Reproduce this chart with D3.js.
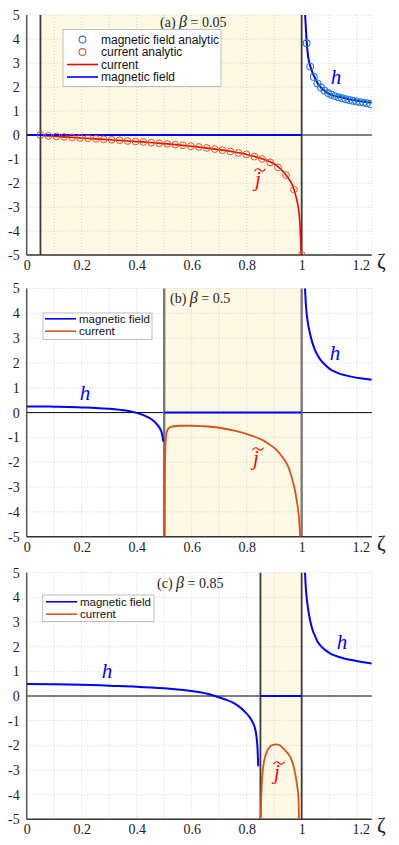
<!DOCTYPE html>
<html>
<head>
<meta charset="utf-8">
<script src="https://cdn.jsdelivr.net/npm/d3@7"></script>
<style>
  body { margin: 0; background: #fff; }
  svg { display: block; }
</style>
</head>
<body>
<svg id="chart" width="399" height="845"></svg>
<script>
// ---------------- DATA ----------------
const xTicks = [0, 0.2, 0.4, 0.6, 0.8, 1, 1.2];
const yTicks = [-5, -4, -3, -2, -1, 0, 1, 2, 3, 4, 5];
const betas = [0.05, 0.5, 0.85];
const panelLetters = ["(a)", "(b)", "(c)"];

// Panel (a) beta = 0.05
const aCurZeta = [0.05,0.06,0.08,0.10,0.15,0.20,0.25,0.30,0.35,0.40,0.45,0.50,0.55,0.60,0.65,0.70,0.75,0.80,0.85,0.88,0.90,0.92,0.94,0.955,0.965,0.972,0.98,0.985,0.99,0.993,0.996,0.9985];
const aCurVal  = [0,-0.02,-0.04,-0.055,-0.09,-0.125,-0.16,-0.195,-0.235,-0.275,-0.315,-0.36,-0.41,-0.47,-0.535,-0.61,-0.70,-0.81,-0.97,-1.09,-1.2,-1.38,-1.62,-1.86,-2.06,-2.27,-2.6,-2.85,-3.2,-3.6,-4.3,-5.0];
const aCurAnZeta = [0.050,0.079,0.108,0.136,0.165,0.194,0.223,0.252,0.280,0.309,0.338,0.367,0.396,0.424,0.453,0.482,0.511,0.540,0.568,0.597,0.626,0.655,0.684,0.712,0.741,0.770,0.799,0.828,0.856,0.885,0.914,0.943,0.972,1.000];
const aCurAnVal  = [0,-0.04,-0.06,-0.08,-0.10,-0.12,-0.14,-0.16,-0.18,-0.20,-0.22,-0.25,-0.27,-0.29,-0.32,-0.345,-0.37,-0.40,-0.43,-0.465,-0.50,-0.54,-0.585,-0.63,-0.685,-0.745,-0.81,-0.90,-1.0,-1.14,-1.35,-1.67,-2.27,-5.0];
const aFieldInZeta = [0, 1];
const aFieldInVal  = [0, 0];
const aFieldOutZeta = [1.0125,1.015,1.018,1.022,1.026,1.03,1.04,1.048,1.057,1.067,1.08,1.091,1.11,1.139,1.16,1.188,1.22,1.255];
const aFieldOutVal  = [5.0,4.5,3.9,3.4,3.1,2.92,2.58,2.38,2.18,2.02,1.87,1.77,1.66,1.58,1.52,1.46,1.40,1.34];
const aFieldAnZeta = [1.018,1.031,1.044,1.057,1.070,1.083,1.096,1.108,1.121,1.134,1.147,1.160,1.173,1.186,1.199,1.212,1.224,1.237,1.250];
const aFieldAnVal  = [3.82,2.85,2.42,2.15,1.98,1.85,1.75,1.68,1.62,1.57,1.53,1.49,1.46,1.43,1.40,1.37,1.35,1.32,1.29];

// Panel (b) beta = 0.5
const bFieldLeftZeta = [0,0.05,0.1,0.15,0.2,0.25,0.3,0.34,0.37,0.4,0.42,0.44,0.46,0.475,0.485,0.492,0.497];
const bFieldLeftVal  = [0.25,0.25,0.24,0.23,0.21,0.19,0.155,0.11,0.065,-0.01,-0.08,-0.18,-0.32,-0.49,-0.65,-0.85,-1.17];
const bFieldInZeta = [0.5, 1];
const bFieldInVal  = [0, 0];
const bFieldOutZeta = [1.012,1.015,1.018,1.022,1.026,1.03,1.038,1.048,1.06,1.073,1.088,1.103,1.12,1.139,1.16,1.188,1.22,1.255];
const bFieldOutVal  = [5.0,4.4,4.0,3.65,3.4,3.2,2.85,2.53,2.27,2.06,1.9,1.75,1.65,1.56,1.5,1.43,1.37,1.32];
const bCurZeta = [0.5015,0.502,0.503,0.504,0.506,0.509,0.513,0.52,0.535,0.56,0.6,0.64,0.7,0.76,0.82,0.86,0.885,0.91,0.933,0.95,0.964,0.975,0.982,0.988,0.992,0.9945];
const bCurVal  = [-5,-3.0,-2.0,-1.5,-1.05,-0.8,-0.68,-0.6,-0.55,-0.53,-0.53,-0.55,-0.61,-0.74,-0.94,-1.12,-1.3,-1.52,-1.84,-2.15,-2.62,-3.1,-3.55,-4.0,-4.5,-5.0];

// Panel (c) beta = 0.85
const cFieldLeftZeta = [0,0.1,0.2,0.3,0.4,0.5,0.55,0.6,0.63,0.66,0.69,0.72,0.75,0.77,0.79,0.81,0.82,0.83,0.835,0.839,0.842];
const cFieldLeftVal  = [0.49,0.48,0.46,0.42,0.38,0.31,0.26,0.2,0.15,0.08,-0.02,-0.13,-0.27,-0.41,-0.6,-0.85,-1.03,-1.3,-1.6,-2.05,-2.85];
const cFieldInZeta = [0.85, 1];
const cFieldInVal  = [0, 0];
const cFieldOutZeta = [1.012,1.015,1.019,1.024,1.03,1.036,1.042,1.05,1.058,1.067,1.085,1.103,1.125,1.151,1.175,1.2,1.225,1.255];
const cFieldOutVal  = [5.0,4.4,3.9,3.48,3.1,2.82,2.6,2.4,2.2,2.06,1.87,1.73,1.62,1.53,1.47,1.42,1.37,1.32];
const cCurZeta = [0.851,0.8525,0.854,0.857,0.861,0.867,0.875,0.885,0.895,0.907,0.92,0.933,0.945,0.958,0.968,0.976,0.983,0.988,0.9905];
const cCurVal  = [-5,-4.3,-3.8,-3.2,-2.8,-2.46,-2.22,-2.05,-1.98,-1.96,-2.0,-2.12,-2.27,-2.46,-2.75,-3.13,-3.6,-4.08,-5.0];

// ---------------- STYLE / LAYOUT ----------------
const COL_BLUE = "#0000ff", COL_RED = "#ff0000", COL_ORANGE = "#d95319";
const COL_MK_BLUE = "#1f82c4", COL_MK_ORANGE = "#e0552a";
const CREAM = "#fdf9e4";
const serif = '"Liberation Serif", "Times New Roman", serif';
const sans = '"Liberation Sans", Arial, sans-serif';
const X0 = 26.7, X1 = 371.8;
const zip = (xs, ys) => xs.map((x, i) => [x, ys[i]]);

const panels = [
  { top: 15, bottom: 255, beta: betas[0], letter: panelLetters[0],
    boundColor: "#3a3a3a", boundWidth: 1.8,
    title: [160, 26.5],
    field: [zip(aFieldInZeta, aFieldInVal), zip(aFieldOutZeta, aFieldOutVal)],
    current: [zip(aCurZeta, aCurVal)], curColor: COL_RED, curWidth: 1.6,
    fieldMarkers: zip(aFieldAnZeta, aFieldAnVal), curMarkers: zip(aCurAnZeta, aCurAnVal),
    hLabels: [[336, 84]], jLabel: [258, 186],
    legend: { box: [63, 29.5, 158, 57], rows: [39.5, 52, 64.5, 77], sample: [67, 98], textX: 101, font: 12,
      items: [
        { type: "marker", color: COL_MK_BLUE, label: "magnetic field analytic" },
        { type: "marker", color: COL_MK_ORANGE, label: "current analytic" },
        { type: "line", color: COL_RED, label: "current" },
        { type: "line", color: COL_BLUE, label: "magnetic field" } ] } },
  { top: 288.5, bottom: 536.7, beta: betas[1], letter: panelLetters[1],
    boundColor: "#7a7a7a", boundWidth: 2.4,
    title: [170, 303],
    field: [zip(bFieldLeftZeta, bFieldLeftVal), zip(bFieldInZeta, bFieldInVal), zip(bFieldOutZeta, bFieldOutVal)],
    current: [zip(bCurZeta, bCurVal)], curColor: COL_ORANGE, curWidth: 1.8,
    hLabels: [[85, 400], [335, 360]], jLabel: [256, 465],
    legend: { box: [43, 313, 109, 26.5], rows: [318.8, 331.2], sample: [45, 76], textX: 79, font: 11.5,
      items: [
        { type: "line", color: COL_BLUE, label: "magnetic field" },
        { type: "line", color: COL_ORANGE, label: "current" } ] } },
  { top: 572.7, bottom: 819.3, beta: betas[2], letter: panelLetters[2],
    boundColor: "#3a3a3a", boundWidth: 1.8,
    title: [157, 588],
    field: [zip(cFieldLeftZeta, cFieldLeftVal), zip(cFieldInZeta, cFieldInVal), zip(cFieldOutZeta, cFieldOutVal)],
    current: [zip(cCurZeta, cCurVal)], curColor: COL_ORANGE, curWidth: 1.8,
    hLabels: [[107, 678], [342, 649]], jLabel: [277, 779],
    legend: { box: [42.7, 595, 111.3, 26.5], rows: [601.8, 614.2], sample: [46, 77], textX: 80, font: 11.5,
      items: [
        { type: "line", color: COL_BLUE, label: "magnetic field" },
        { type: "line", color: COL_ORANGE, label: "current" } ] } }
];

const svg = d3.select("#chart");
const x = d3.scaleLinear().domain([0, 1.255]).range([X0, X1]);
const gridX = d3.range(1, 13).map(i => i / 10).concat([1.255]);

panels.forEach((p, pi) => {
  const y = d3.scaleLinear().domain([-5, 5]).range([p.bottom, p.top]);
  const g = svg.append("g");
  const clipId = "clip" + pi;
  svg.append("clipPath").attr("id", clipId).append("rect")
    .attr("x", X0).attr("y", p.top - 1).attr("width", X1 - X0).attr("height", p.bottom - p.top + 1);

  // shaded superconducting region
  g.append("rect")
    .attr("x", x(p.beta)).attr("y", y(5))
    .attr("width", x(1) - x(p.beta)).attr("height", y(-5) - y(5))
    .attr("fill", CREAM);

  // grid
  g.selectAll(".gx").data(gridX).join("line")
    .attr("x1", d => x(d)).attr("x2", d => x(d)).attr("y1", y(5)).attr("y2", y(-5))
    .attr("stroke", "#c8c8c8").attr("stroke-width", 0.8).attr("stroke-dasharray", "1,2");
  g.selectAll(".gy").data(yTicks.filter(v => v > -5 && v !== 0)).join("line")
    .attr("x1", X0).attr("x2", X1).attr("y1", d => y(d)).attr("y2", d => y(d))
    .attr("stroke", "#c8c8c8").attr("stroke-width", 0.8).attr("stroke-dasharray", "1,2");

  // zero line
  g.append("line").attr("x1", X0).attr("x2", X1).attr("y1", y(0)).attr("y2", y(0))
    .attr("stroke", "#000").attr("stroke-width", 1);

  // region boundaries
  [p.beta, 1].forEach(v => {
    g.append("line").attr("x1", x(v)).attr("x2", x(v)).attr("y1", y(5)).attr("y2", y(-5))
      .attr("stroke", p.boundColor).attr("stroke-width", p.boundWidth);
  });

  // axes lines
  g.append("line").attr("x1", X0).attr("x2", X0).attr("y1", y(5)).attr("y2", y(-5))
    .attr("stroke", "#555").attr("stroke-width", 1.5);
  g.append("line").attr("x1", X0).attr("x2", X1).attr("y1", y(-5)).attr("y2", y(-5))
    .attr("stroke", "#333").attr("stroke-width", 1.5);

  // axes labels
  const ax = g.append("g").attr("transform", `translate(0,${p.bottom})`)
    .call(d3.axisBottom(x).tickValues(xTicks).tickSize(0).tickPadding(5).tickFormat(d => String(d)));
  ax.select(".domain").remove();
  ax.attr("font-family", serif).attr("font-size", 14);
  ax.selectAll("text").attr("fill", "#222");
  ax.selectAll(".tick").filter(d => d === 1.2).select("text").attr("dx", 4);
  const ay = g.append("g").attr("transform", `translate(${X0},0)`)
    .call(d3.axisLeft(y).tickValues(yTicks).tickSize(0).tickPadding(7).tickFormat(d => String(d)));
  ay.select(".domain").remove();
  ay.attr("font-family", serif).attr("font-size", 14);
  ay.selectAll("text").attr("fill", "#222");

  // zeta label
  g.append("text").attr("x", 377).attr("y", p.bottom + 13)
    .attr("font-family", serif).attr("font-size", 21).attr("fill", "#222").text("ζ");

  // curves
  const line = d3.line().x(d => x(d[0])).y(d => y(d[1])).curve(d3.curveMonotoneX);
  const plot = g.append("g").attr("clip-path", `url(#${clipId})`);
  p.current.forEach(seg => {
    plot.append("path").attr("d", line(seg)).attr("fill", "none")
      .attr("stroke", p.curColor).attr("stroke-width", p.curWidth);
  });
  p.field.forEach(seg => {
    plot.append("path").attr("d", line(seg)).attr("fill", "none")
      .attr("stroke", COL_BLUE).attr("stroke-width", 2);
  });
  if (p.curMarkers) {
    plot.selectAll(".cm").data(p.curMarkers).join("circle")
      .attr("cx", d => x(d[0])).attr("cy", d => y(d[1])).attr("r", 3.4)
      .attr("fill", "none").attr("stroke", COL_MK_ORANGE).attr("stroke-width", 1);
  }
  if (p.fieldMarkers) {
    plot.selectAll(".fm").data(p.fieldMarkers).join("circle")
      .attr("cx", d => x(d[0])).attr("cy", d => y(d[1])).attr("r", 3.4)
      .attr("fill", "none").attr("stroke", COL_MK_BLUE).attr("stroke-width", 1.1);
  }

  // labels h and j with tilde accent
  p.hLabels.forEach(([hx, hy]) => {
    g.append("text").attr("x", hx).attr("y", hy).attr("text-anchor", "middle")
      .attr("font-family", serif).attr("font-style", "italic").attr("font-size", 21)
      .attr("fill", COL_BLUE).text("h");
  });
  g.append("text").attr("x", p.jLabel[0]).attr("y", p.jLabel[1]).attr("text-anchor", "middle")
    .attr("font-family", serif).attr("font-style", "italic").attr("font-size", 21)
    .attr("fill", COL_RED).text("j");
  g.append("path")
    .attr("transform", `translate(${p.jLabel[0] + 2},${p.jLabel[1] - 16})`)
    .attr("d", "M-5.5,1.2 C-3.5,-2 -1.5,-1.6 0,0 C1.5,1.6 3.5,2 5.5,-1.2")
    .attr("fill", "none").attr("stroke", COL_RED).attr("stroke-width", 1.1);

  // title
  const t = g.append("text").attr("x", p.title[0]).attr("y", p.title[1])
    .attr("font-family", serif).attr("font-size", 14).attr("fill", "#222");
  t.append("tspan").text(p.letter + " ");
  t.append("tspan").attr("font-style", "italic").attr("font-size", 16).text("β");
  t.append("tspan").text(" = " + p.beta);

  // legend
  const L = p.legend;
  g.append("rect").attr("x", L.box[0]).attr("y", L.box[1]).attr("width", L.box[2]).attr("height", L.box[3])
    .attr("fill", "#fff").attr("stroke", "#b0b0b0").attr("stroke-width", 0.8);
  L.items.forEach((it, i) => {
    const ry = L.rows[i];
    if (it.type === "marker") {
      g.append("circle").attr("cx", (L.sample[0] + L.sample[1]) / 2).attr("cy", ry).attr("r", 3.4)
        .attr("fill", "none").attr("stroke", it.color).attr("stroke-width", 1.1);
    } else {
      g.append("line").attr("x1", L.sample[0]).attr("x2", L.sample[1]).attr("y1", ry).attr("y2", ry)
        .attr("stroke", it.color).attr("stroke-width", 1.6);
    }
    g.append("text").attr("x", L.textX).attr("y", ry + 4)
      .attr("font-family", sans).attr("font-size", L.font).attr("fill", "#111").text(it.label);
  });
});
</script>
</body>
</html>
